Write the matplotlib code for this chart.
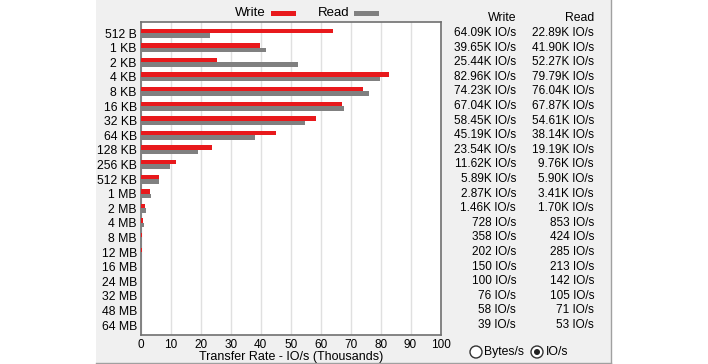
import matplotlib
matplotlib.use("Agg")
import matplotlib.pyplot as plt
from matplotlib.patches import Rectangle, Circle
import matplotlib.transforms as mtransforms

plt.rcParams['font.family'] = ['Liberation Sans', 'DejaVu Sans']

categories = ["512 B", "1 KB", "2 KB", "4 KB", "8 KB", "16 KB", "32 KB", "64 KB",
              "128 KB", "256 KB", "512 KB", "1 MB", "2 MB", "4 MB", "8 MB",
              "12 MB", "16 MB", "24 MB", "32 MB", "48 MB", "64 MB"]
write_k = [64.09, 39.65, 25.44, 82.96, 74.23, 67.04, 58.45, 45.19, 23.54, 11.62,
           5.89, 2.87, 1.46, 0.728, 0.358, 0.202, 0.150, 0.100, 0.076, 0.058, 0.039]
read_k = [22.89, 41.90, 52.27, 79.79, 76.04, 67.87, 54.61, 38.14, 19.19, 9.76,
          5.90, 3.41, 1.70, 0.853, 0.424, 0.285, 0.213, 0.142, 0.105, 0.071, 0.053]
write_labels = ["64.09K IO/s", "39.65K IO/s", "25.44K IO/s", "82.96K IO/s", "74.23K IO/s",
                "67.04K IO/s", "58.45K IO/s", "45.19K IO/s", "23.54K IO/s", "11.62K IO/s",
                "5.89K IO/s", "2.87K IO/s", "1.46K IO/s", "728 IO/s", "358 IO/s",
                "202 IO/s", "150 IO/s", "100 IO/s", "76 IO/s", "58 IO/s", "39 IO/s"]
read_labels = ["22.89K IO/s", "41.90K IO/s", "52.27K IO/s", "79.79K IO/s", "76.04K IO/s",
               "67.87K IO/s", "54.61K IO/s", "38.14K IO/s", "19.19K IO/s", "9.76K IO/s",
               "5.90K IO/s", "3.41K IO/s", "1.70K IO/s", "853 IO/s", "424 IO/s",
               "285 IO/s", "213 IO/s", "142 IO/s", "105 IO/s", "71 IO/s", "53 IO/s"]
x_ticks = [0, 10, 20, 30, 40, 50, 60, 70, 80, 90, 100]

W, H = 708, 364
fig = plt.figure(figsize=(W / 100, H / 100), dpi=100)
fig.patch.set_facecolor("white")

# background layer axes in pixel coordinates
bg = fig.add_axes([0, 0, 1, 1], facecolor="none", zorder=-5)
bg.set_xlim(0, W)
bg.set_ylim(H, 0)
bg.axis("off")
bg.add_patch(Rectangle((96, 0), 515, 362.5, facecolor="#f0f0f0", edgecolor="none"))
bg.plot([96, 611], [362.5, 362.5], color="#a0a0a0", lw=1)
bg.plot([611, 611], [0, 362.5], color="#a0a0a0", lw=1)

def fx(px):
    return px / W

def fy(py):
    return 1 - py / H

ax = fig.add_axes([fx(141), fy(335), fx(440.5) - fx(141), fy(22) - fy(335)], zorder=1)
ax.set_facecolor("white")

n = len(categories)
pos = list(range(n))
bh = 0.31
ax.barh([p - bh / 2 for p in pos], write_k, height=bh, color="#e8191c", zorder=3)
ax.barh([p + bh / 2 for p in pos], read_k, height=bh, color="#808080", zorder=3)

ax.set_xlim(0, 100)
ax.set_ylim(n - 1 + 0.68, -0.76)
ax.set_xticks(x_ticks)
ax.set_xticklabels([str(t) for t in x_ticks], fontsize=8.5)
ax.set_yticks(pos)
ax.set_yticklabels(categories, fontsize=8.8)
ax.tick_params(axis="both", length=0, pad=3)
ax.grid(axis="x", color="#e0e0e0", lw=1, zorder=0)
for s in ax.spines.values():
    s.set_color("#707070")
    s.set_linewidth(1.2)
ax.set_xlabel("Transfer Rate - IO/s (Thousands)", fontsize=9, labelpad=0)

# value columns
trans = mtransforms.blended_transform_factory(fig.transFigure, ax.transData)
for i in range(n):
    ax.text(fx(516), i, write_labels[i], transform=trans, ha="right", va="center",
            fontsize=8.5, clip_on=False)
    ax.text(fx(594), i, read_labels[i], transform=trans, ha="right", va="center",
            fontsize=8.5, clip_on=False)

# overlay axes in pixel coordinates for legend, headers, radio buttons
ov = fig.add_axes([0, 0, 1, 1], facecolor="none", zorder=2)
ov.set_xlim(0, W)
ov.set_ylim(H, 0)
ov.axis("off")
ov.text(516, 18, "Write", ha="right", va="center", fontsize=8.8)
ov.text(594, 18, "Read", ha="right", va="center", fontsize=8.8)

ov.text(250, 13, "Write", ha="center", va="center", fontsize=9.5)
ov.add_patch(Rectangle((271, 10.5), 25, 5, facecolor="#e8191c", edgecolor="none"))
ov.text(334, 13, "Read", ha="center", va="center", fontsize=9.5)
ov.add_patch(Rectangle((354, 10.5), 25, 5, facecolor="#808080", edgecolor="none"))

ov.add_patch(Circle((476, 352), 6, facecolor="white", edgecolor="#333333", lw=1))
ov.text(484, 352, "Bytes/s", ha="left", va="center", fontsize=8.8)
ov.add_patch(Circle((537, 352), 6, facecolor="white", edgecolor="#333333", lw=1))
ov.add_patch(Circle((537, 352), 3, facecolor="#222222", edgecolor="none"))
ov.text(546, 352, "IO/s", ha="left", va="center", fontsize=8.8)

fig.savefig("out.png", dpi=100, facecolor=fig.get_facecolor())
